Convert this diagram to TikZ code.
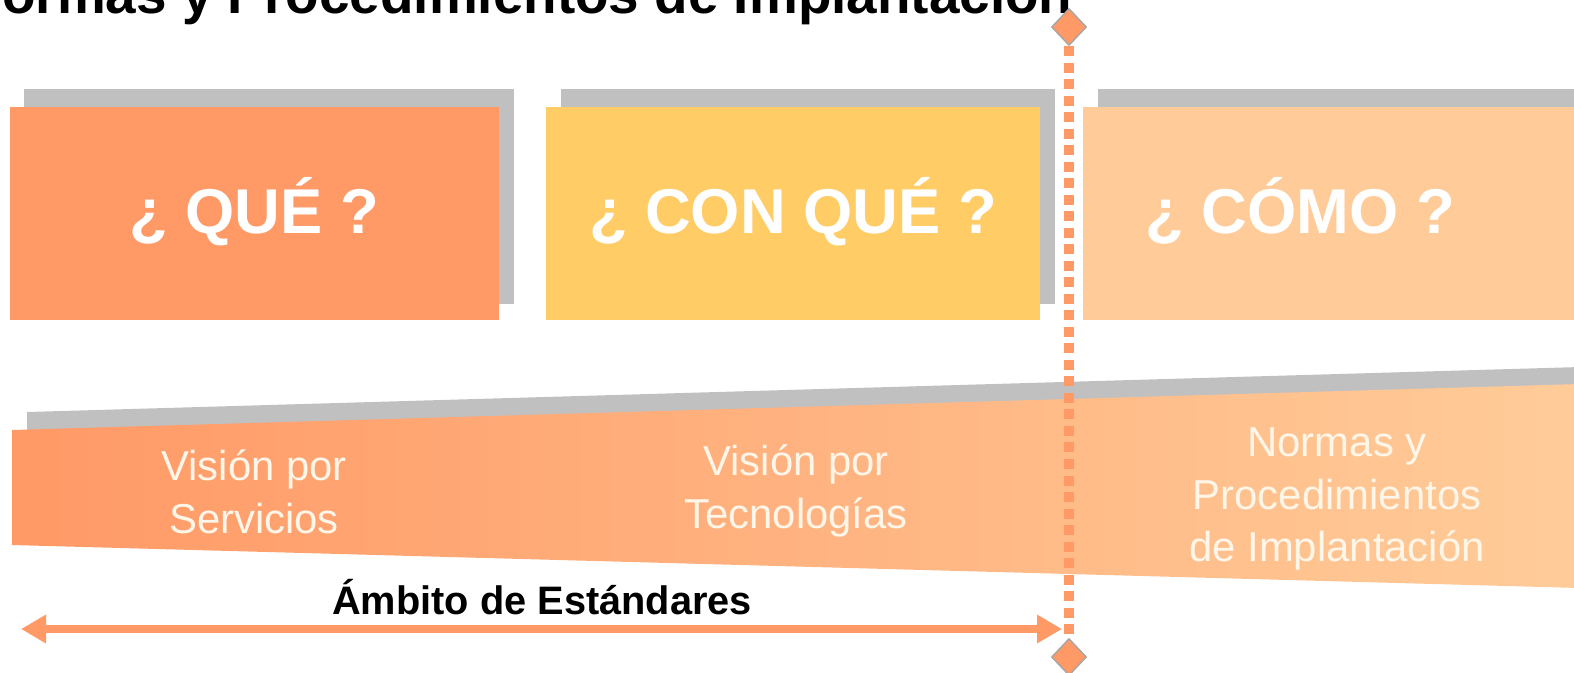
\documentclass[tikz,border=0pt]{standalone}
\usepackage{fontspec}
\setmainfont{Liberation Sans}
\usetikzlibrary{shapes.geometric,arrows.meta}
\definecolor{qorange}{HTML}{FF9966}
\definecolor{qyellow}{HTML}{FFCC66}
\definecolor{qpeach}{HTML}{FFCC99}
\definecolor{qshadow}{HTML}{C0C0C0}
\definecolor{qcream}{HTML}{FFF6EA}
\begin{document}
\begin{tikzpicture}[x=0.01cm,y=-0.01cm]
      \useasboundingbox (0,0) rectangle (1574,672);
      % title, cut by the top edge
      \node[anchor=base west,inner sep=0,font=\bfseries\fontsize{15.6}{18}\selectfont] (title) at (-38,13) {Normas y Procedimientos de Implantación};
      % shadows
      \fill[qshadow] (24,89) rectangle (514,304);
      \fill[qshadow] (561,89) rectangle (1055,304);
      \fill[qshadow] (1098,89) rectangle (1580,304);
      \fill[qshadow] (27,412) -- (1580,367) -- (1580,560) -- (27,528) -- cycle;
      % boxes and band
      \fill[qorange] (10,107) rectangle (499,320);
      \fill[qyellow] (546,107) rectangle (1040,320);
      \fill[qpeach] (1083,107) rectangle (1580,320);
      \shade[left color=qorange,right color=qpeach] (12,430) -- (1580,384) -- (1580,588) -- (12,545) -- cycle;
      \begin{scope}[every node/.style={anchor=base,text=white,font=\bfseries\fontsize{18}{20}\selectfont}]
        \node (que) at (254,233) {¿ QUÉ ?};
        \node (conque) at (793,233) {¿ CON QUÉ ?};
        \node (como) at (1300,233) {¿ CÓMO ?};
      \end{scope}
      \begin{scope}[every node/.style={align=center,inner sep=0,text=qcream,font=\fontsize{11.9}{15}\selectfont}]
        \node (servicios) at (254,492) {Visión por\\Servicios};
        \node (tecnologias) at (796,491) {Visión por\\Tecnologías};
        \node (normas) at (1337,499) {Normas y\\Procedimientos\\de Implantación};
      \end{scope}
      % scope of the standards
      \node[anchor=base,font=\bfseries\fontsize{11.3}{13}\selectfont] (ambito) at (542,614) {Ámbito de Estándares};
      \coordinate (al) at (21,629);
      \coordinate (ar) at (1062,629);
      \draw[qorange,line width=2.3pt,{Triangle[length=0.25cm,width=0.27cm]}-{Triangle[length=0.25cm,width=0.27cm]}] (al) -- (ar);
      % dividing line
      \begin{scope}[every node/.style={diamond,fill=qorange,draw=gray!70,line width=0.4pt,inner sep=0,minimum width=0.35cm,minimum height=0.37cm}]
        \node (dtop) at (1069,27) {};
        \node (dbot) at (1069,657) {};
      \end{scope}
      \draw[qorange,line width=2.6pt,dash pattern=on 0.1cm off 0.065cm] (dtop) -- (dbot);
    \end{tikzpicture}
\end{document}
